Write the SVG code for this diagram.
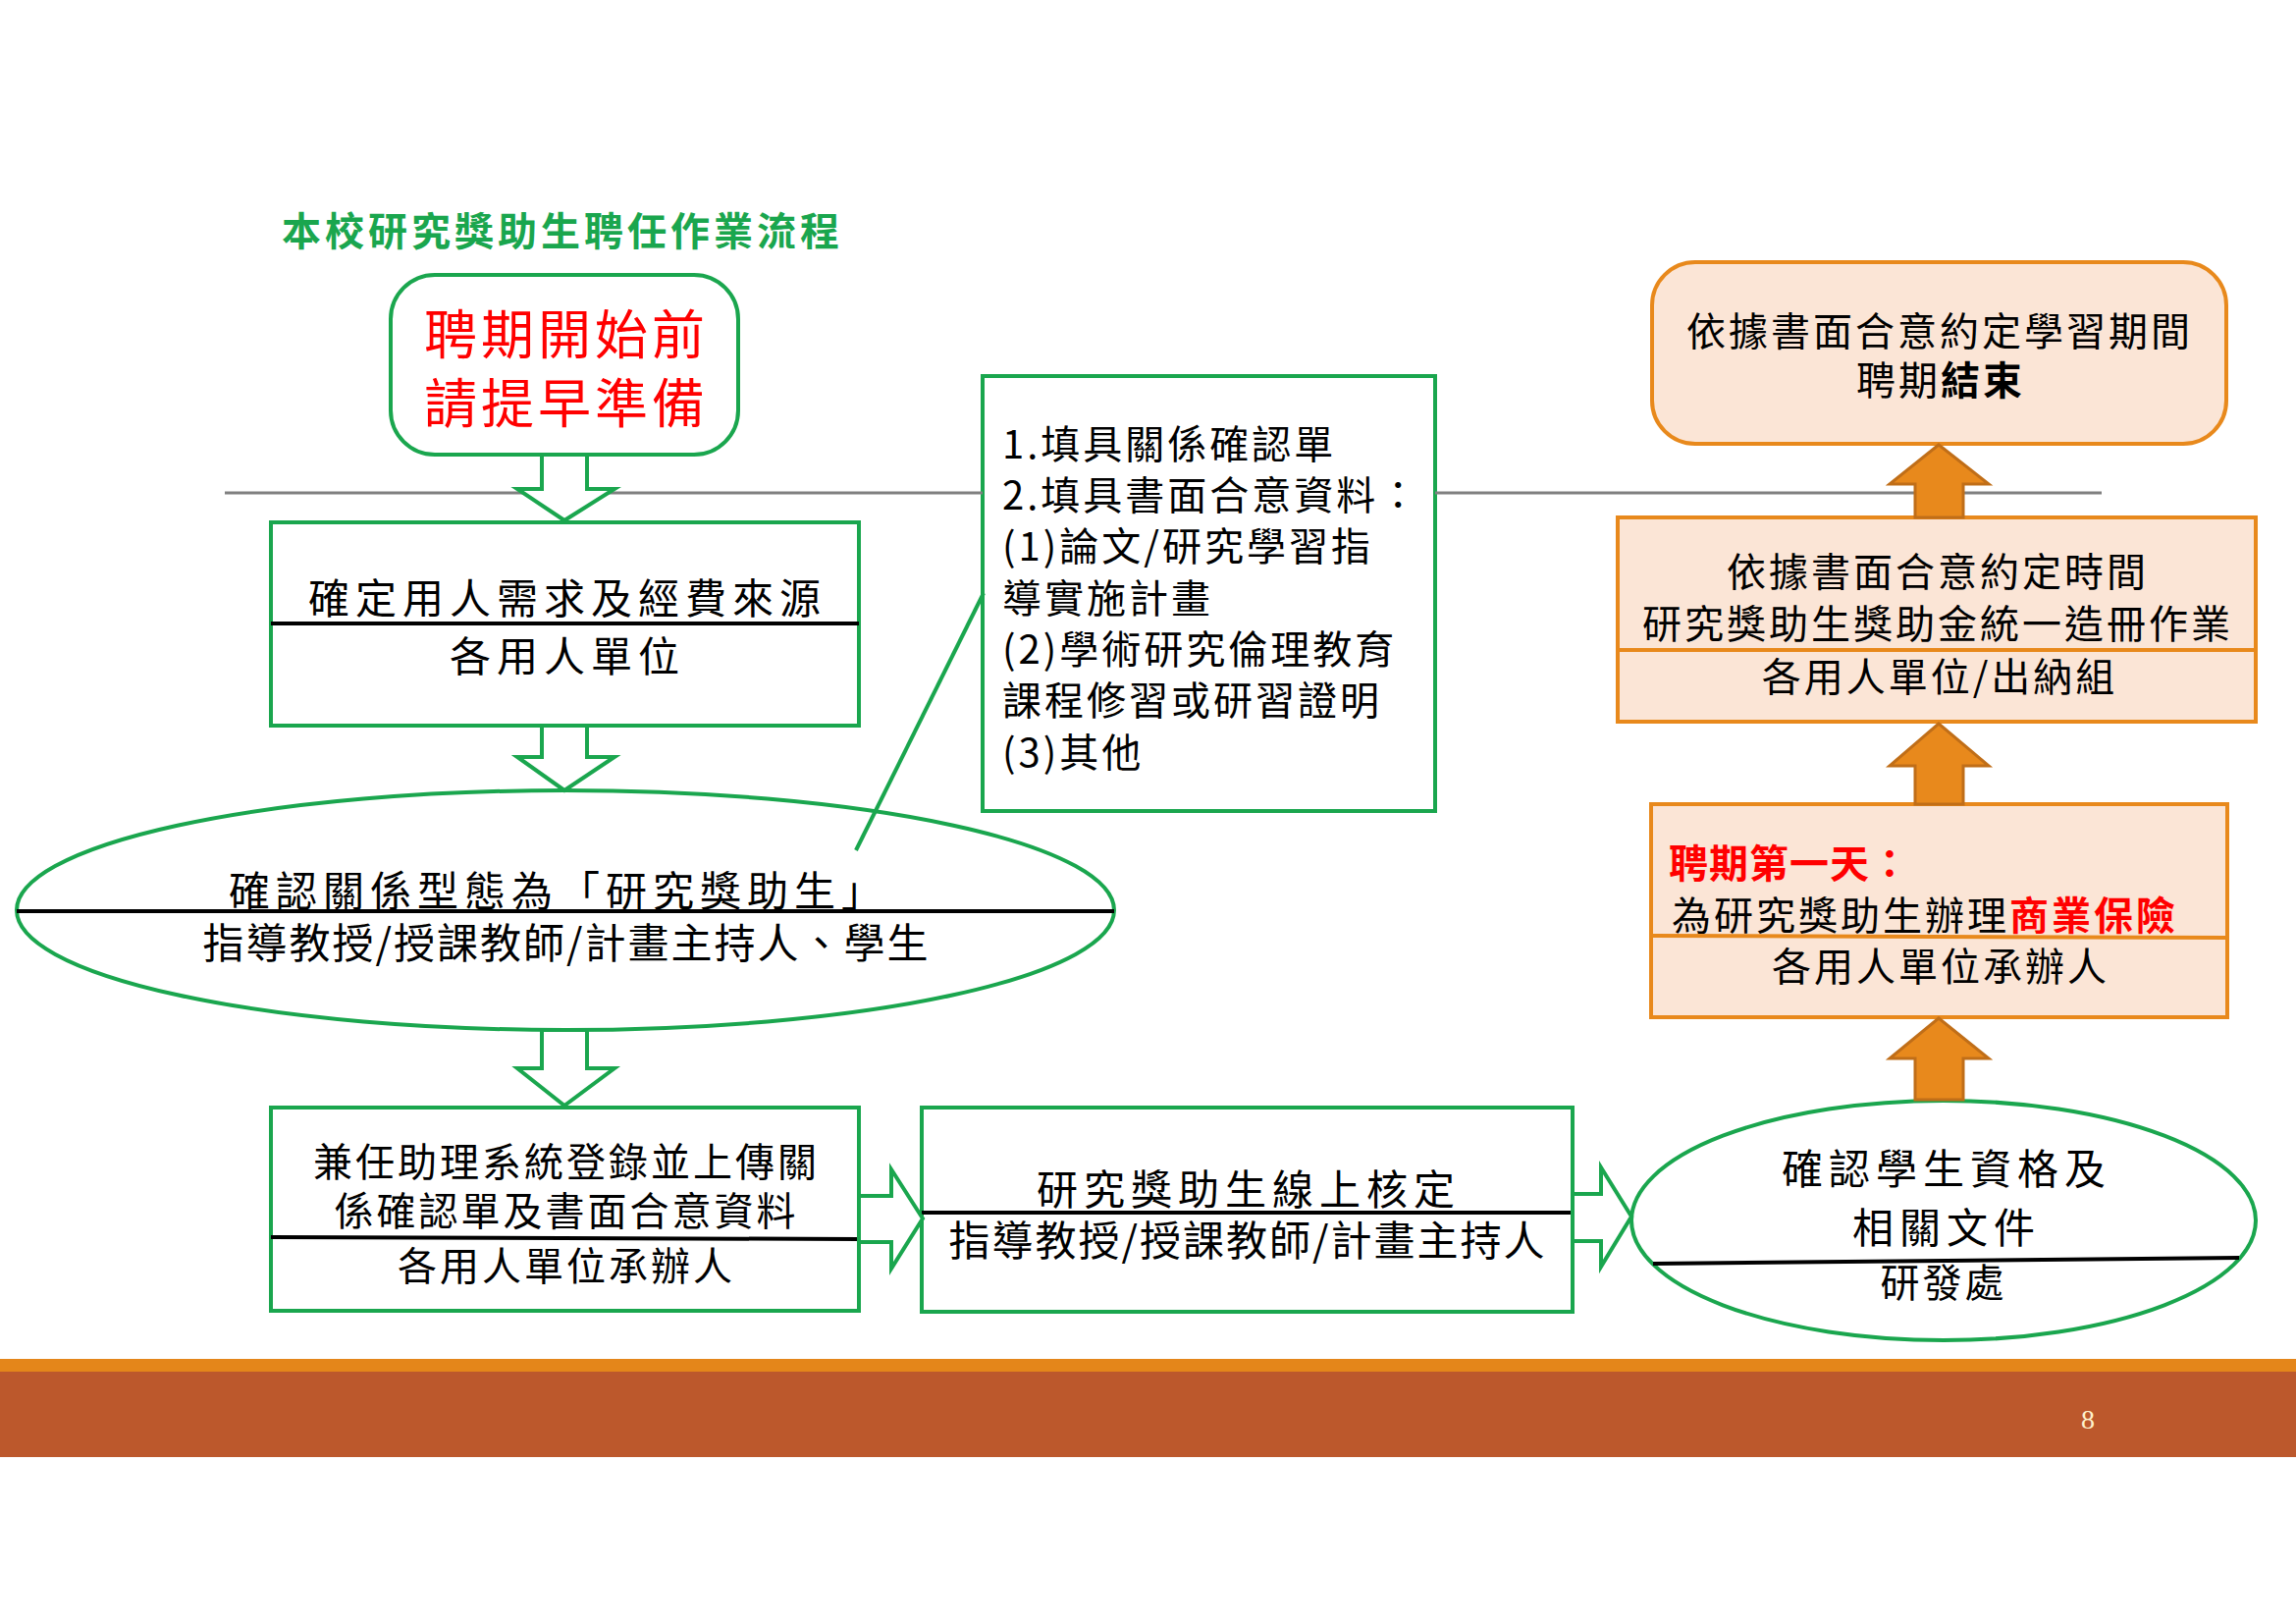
<svg xmlns="http://www.w3.org/2000/svg" width="2339" height="1654" viewBox="0 0 2339 1654">
<style>
.t{font-family:"Noto Sans CJK TC","Noto Sans CJK SC",sans-serif;fill:#000;}
.c{text-anchor:middle;}
.g{fill:#fff;stroke:#1AA64E;stroke-width:4;}
.o{fill:#FBE5D6;stroke:#E8891C;stroke-width:4;}
.oa{fill:#E8891C;stroke:#C06E18;stroke-width:3;stroke-linejoin:miter;}
.div{stroke:#000;stroke-width:4;}
.odiv{stroke:#E8891C;stroke-width:4;}
.f42{font-size:42px;letter-spacing:6px;}
.f40{font-size:40px;letter-spacing:3px;}
.red{fill:#FF0000;}
.b{font-weight:bold;}
</style>
<rect width="2339" height="1654" fill="#fff"/>
<text id="title" class="t b" x="573" y="250" font-size="40" letter-spacing="4" text-anchor="middle" style="fill:#1AA64E">本校研究獎助生聘任作業流程</text>

<g id="start">
<rect class="g" x="398" y="280" width="354" height="183" rx="45"/>
<text class="t c red" x="577" y="361" font-size="54" letter-spacing="4">聘期開始前</text>
<text class="t c red" x="577" y="431" font-size="54" letter-spacing="4">請提早準備</text>
</g>

<g id="need">
<rect class="g" x="276" y="532" width="599" height="207"/>
<line class="div" x1="276" y1="635" x2="875" y2="635"/>
<text class="t c f42" x="578" y="625">確定用人需求及經費來源</text>
<text class="t c f42" x="578" y="684">各用人單位</text>
</g>

<g id="confirm-type">
<ellipse class="g" cx="576" cy="927" rx="559" ry="122"/>
<line class="div" x1="17" y1="928" x2="1135" y2="928"/>
<text class="t c f42" x="569" y="923">確認關係型態為「研究獎助生」</text>
<text class="t c" x="577" y="976" font-size="42" letter-spacing="2">指導教授/授課教師/計畫主持人、學生</text>
</g>

<g id="docs">
<rect class="g" x="1001" y="383" width="461" height="443"/>
<text class="t f40" x="1021" y="467">1.填具關係確認單</text>
<text class="t f40" x="1021" y="519">2.填具書面合意資料：</text>
<text class="t f40" x="1021" y="571">(1)論文/研究學習指</text>
<text class="t f40" x="1021" y="624">導實施計畫</text>
<text class="t f40" x="1021" y="676">(2)學術研究倫理教育</text>
<text class="t f40" x="1021" y="728">課程修習或研習證明</text>
<text class="t f40" x="1021" y="781">(3)其他</text>
</g>

<g id="register">
<rect class="g" x="276" y="1128" width="599" height="207"/>
<line class="div" x1="276" y1="1260" x2="875" y2="1262"/>
<text class="t c f40" x="577" y="1198">兼任助理系統登錄並上傳關</text>
<text class="t c f40" x="577" y="1248">係確認單及書面合意資料</text>
<text class="t c f40" x="577" y="1304">各用人單位承辦人</text>
</g>

<g id="approve">
<rect class="g" x="939" y="1128" width="663" height="208"/>
<line class="div" x1="939" y1="1235" x2="1602" y2="1235"/>
<text class="t c f42" x="1272" y="1227">研究獎助生線上核定</text>
<text class="t c" x="1271" y="1279" font-size="42" letter-spacing="2">指導教授/授課教師/計畫主持人</text>
</g>

<g id="verify">
<ellipse class="g" cx="1980" cy="1243" rx="318" ry="122"/>
<line class="div" x1="1684" y1="1287" x2="2281" y2="1281"/>
<text class="t c f42" x="1983" y="1206">確認學生資格及</text>
<text class="t c f42" x="1983" y="1266">相關文件</text>
<text class="t c f40" x="1980" y="1321">研發處</text>
</g>

<g id="insurance">
<rect class="o" x="1682" y="819" width="587" height="217"/>
<line class="odiv" x1="1682" y1="953" x2="2269" y2="955"/>
<text class="t b red" x="1700" y="894" font-size="40" letter-spacing="1">聘期第一天：</text>
<text class="t f40" x="1703" y="947">為研究獎助生辦理<tspan class="b red">商業保險</tspan></text>
<text class="t c f40" x="1977" y="999">各用人單位承辦人</text>
</g>

<g id="payroll">
<rect class="o" x="1648" y="527" width="650" height="208"/>
<line class="odiv" x1="1648" y1="662" x2="2298" y2="662"/>
<text class="t c f40" x="1974" y="597">依據書面合意約定時間</text>
<text class="t c f40" x="1974" y="650">研究獎助生獎助金統一造冊作業</text>
<text class="t c f40" x="1976" y="704">各用人單位/出納組</text>
</g>

<g id="end">
<rect class="o" x="1683" y="267" width="585" height="185" rx="44"/>
<text class="t c f40" x="1976" y="352">依據書面合意約定學習期間</text>
<text class="t c f40" x="1977" y="402">聘期<tspan class="b">結束</tspan></text>
</g>

<g id="connectors">
<line x1="229" y1="502" x2="1001" y2="502" stroke="#808080" stroke-width="3"/>
<line x1="1462" y1="502" x2="2141" y2="502" stroke="#808080" stroke-width="3"/>
<polygon class="g" points="552,463 598,463 598,498 626,498 575,530 527,498 552,498"/>
<polygon class="g" points="552,739 598,739 598,771 626,771 575,805 527,771 552,771"/>
<polygon class="g" points="552,1049 598,1049 598,1088 626,1088 575,1126 527,1088 552,1088"/>
<polygon class="g" points="875,1218 908,1218 908,1191 940,1241 908,1292 908,1265 875,1265"/>
<polygon class="g" points="1602,1216 1631,1216 1631,1189 1662,1239 1631,1290 1631,1264 1602,1264"/>
<polygon class="oa" points="1951,527 1951,493 1925,493 1975,453 2026,493 2000,493 2000,527"/>
<polygon class="oa" points="1951,819 1951,780 1925,780 1975,737 2026,780 2000,780 2000,819"/>
<polygon class="oa" points="1951,1120 1951,1078 1925,1078 1975,1037 2026,1078 2000,1078 2000,1120"/>
<line x1="1002" y1="604" x2="872" y2="866" stroke="#1AA64E" stroke-width="4"/>
</g>

<g id="footer">
<rect x="0" y="1384" width="2339" height="14" fill="#E4861A"/>
<rect x="0" y="1397" width="2339" height="87" fill="#BC582C"/>
<text x="2127" y="1455" font-family="Liberation Serif, serif" font-size="28" fill="#FFF2CC" text-anchor="middle">8</text>
</g>
</svg>
